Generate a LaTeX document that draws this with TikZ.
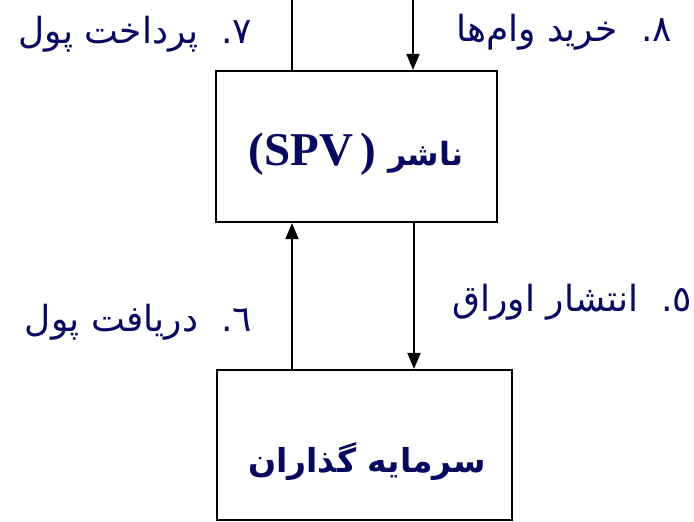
\documentclass[tikz,border=0pt]{standalone}
\usepackage{fontspec}
\usetikzlibrary{arrows.meta}
\TeXXeTstate=1
\newfontfamily\arabicfont[Script=Arabic]{DejaVu Sans}
\newfontfamily\latinbold{Liberation Serif}
\definecolor{navy}{RGB}{8,8,96}
\tikzset{
  box/.style={draw=black, line width=2.2pt, rectangle, inner sep=0pt},
  conn/.style={draw=black, line width=2pt},
  arr/.style={conn, -{Triangle[length=16pt,width=13pt]}},
  lbl/.style={text=navy, font=\arabicfont\fontsize{36}{40}\selectfont, inner sep=0pt},
  ttl/.style={text=navy, font=\arabicfont\bfseries\fontsize{33}{38}\selectfont, inner sep=0pt}
}
\begin{document}
\begin{tikzpicture}[x=1pt,y=-1pt]
\useasboundingbox (0,0) rectangle (694,522);
\node[box, minimum width=281pt, minimum height=151pt] (b1) at (356.5,146.5) {};
\node[box, minimum width=295pt, minimum height=150pt] (b2) at (364.5,445) {};
\node[ttl] (t1) at (356,154) {{\latinbold\bfseries\fontsize{47}{50}\selectfont(SPV\,)}\ {\fontsize{32}{36}\selectfont\beginR ناشر\endR}};
\node[ttl] (t2) at (367,462) {\beginR سرمایه گذاران\endR};
\coordinate (p7) at (292,0);
\coordinate (p8) at (413,0);
\draw[conn] (p7) -- (p7 |- b1.north);
\draw[arr] (p8) -- (p8 |- b1.north);
\coordinate (p6) at (292,300);
\coordinate (p5) at (414,300);
\draw[arr] (p6 |- b2.north) -- (p6 |- b1.south);
\draw[arr] (p5 |- b1.south) -- (p5 |- b2.north);
\node[lbl, anchor=east] (l7) at (252,34) {\beginR ٧.\ \ پرداخت پول\endR};
\node[lbl, anchor=east] (l8) at (672,32) {\beginR ٨.\ \ خرید وام‌ها\endR};
\node[lbl, anchor=east] (l6) at (252,322) {\beginR ٦.\ \ دریافت پول\endR};
\node[lbl, anchor=east] (l5) at (692,302) {\beginR ٥.\ \ انتشار اوراق\endR};
\end{tikzpicture}
\end{document}
